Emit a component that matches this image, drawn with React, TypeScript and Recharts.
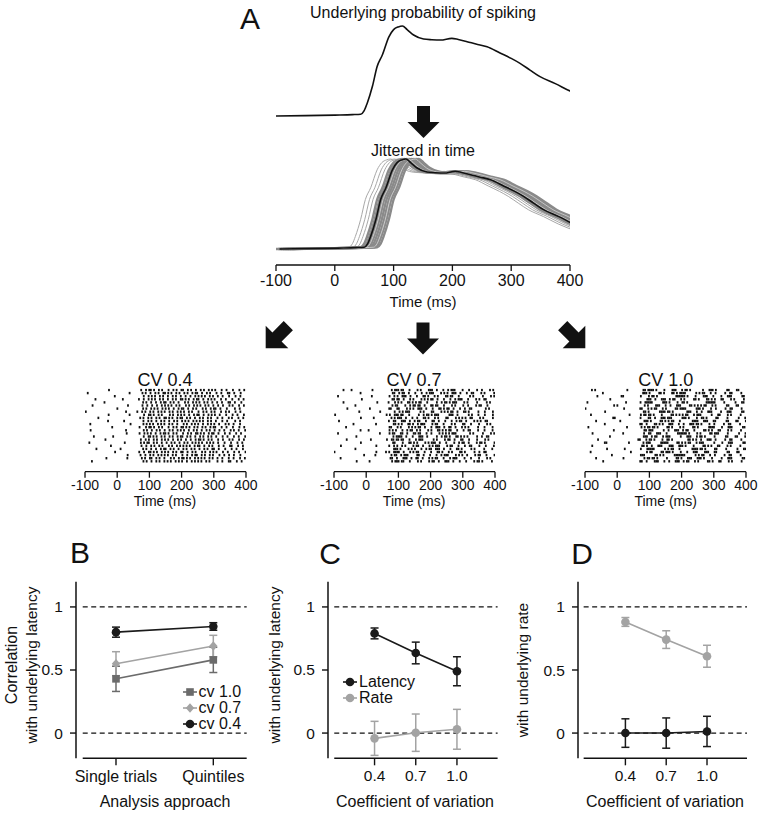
import React from "react";
import {
  ErrorBar,
  Line,
  LineChart,
  ReferenceLine,
  Scatter,
  ScatterChart,
  XAxis,
  YAxis,
} from "recharts";

const FONT = '"Liberation Sans", Arial, Helvetica, sans-serif';
const INK = "#111";
const GREY_DARK = "#6b6b6b";
const GREY_LIGHT = "#a3a3a3";

// A: underlying probability of spiking (time in ms, relative rate)
const timeMs = [-100, -50, 0, 30, 44, 50, 55, 64, 72, 81, 92, 100, 108, 115, 123, 134, 151, 165, 180, 199, 210, 225, 240, 259, 281, 300, 315, 332, 349, 375, 400, 430];
const spikeProb = [0, 0.004, 0.01, 0.015, 0.02, 0.06, 0.14, 0.33, 0.55, 0.68, 0.88, 0.96, 0.99, 1.0, 0.96, 0.9, 0.856, 0.848, 0.844, 0.863, 0.85, 0.826, 0.8, 0.77, 0.7, 0.64, 0.585, 0.51, 0.437, 0.36, 0.278, 0.2];
const timeTicks = [-100, 0, 100, 200, 300, 400];

// jitter offsets of the copies (ms)
const jitterGrey = [0, 4, 8, 12, 16, 20, 24, 28];
const jitterPale = [10, 22];
const jitterThin = [-20, -13, -7];
const jitterMean = 6;

// rasters: one string per trial, one char per 5 ms bin from -100 ms, "|" = spike
const raster04 = [
  ".......... ....|..... .......... ....|..|.| |.|..|.|.. .|..|.|..| |..|.|..|. .|.|..|.|. |...|..|.. .|...|..|.",
  "..|....... .......... ........|. ......|.|. .|..|.|..| |.|.|..|.| ..|.|..|.| |..|..|.|. ..|..|...| |..|...|..",
  ".......... .......|.. .......... .....|..|. |.|..|.|.. |..|.|..|. .|..|..|.| .|.|..|.|. .|..|...|. ..|..|...|",
  "......|... .......... ...|...... ...|..|..| .|.|..|.|. .|..|.|..| |.|.|..|.| |..|..|.|. |...|..|.. .|...|..|.",
  ".......... ..|....... .......... ......|.|. .|..|..|.| |..|.|..|. ..|.|..|.| .|..|.|..| ..|..|...| |..|...|..",
  "...|...... .......... .....|.... ....|..|.. |..|..|.|. |.|..|.|.. .|.|..|.|. |..|.|..|. .|..|...|. |...|..|..",
  ".......... .........| .......... .....|.|.. |.|.|..|.| .|..|..|.| |..|..|.|. ..|.|..|.| |..|...|.. ..|..|...|",
  ".|........ .......... ......|... ...|..|.|. .|.|..|.|. |..|.|..|. |.|..|.|.. .|..|.|..| .|...|..|. |...|..|..",
  ".......... ....|..... .......|.. ......|..| |.|..|.|.. ..|.|..|.| .|..|..|.| |..|..|.|. |..|...|.. .|..|...|.",
  "........|. .......... .......... ....|.|..| .|..|.|..| |.|.|..|.| |..|.|..|. .|.|..|.|. ..|..|...| .|...|..|.",
  ".......... ...|...... ...|...... .....|..|. |..|..|.|. .|..|.|..| .|.|..|.|. |.|..|.|.. |...|..|.. ..|..|...|",
  "....|..... .......... .........| .......|.| .|.|..|.|. |..|.|..|. ..|.|..|.| .|..|..|.| .|..|...|. |..|...|..",
  ".......... ......|... .......... ...|...|.| |.|..|.|.. .|..|.|..| |.|.|..|.| ..|.|..|.| |...|..|.. .|...|..|.",
  "..|....... .......... ....|..... .....|.|.. |..|.|..|. .|.|..|.|. |..|..|.|. .|..|.|..| ..|..|...| .|..|...|.",
  ".......... .......... ......|... ....|..|.| .|..|..|.| |.|..|.|.. .|..|.|..| |.|.|..|.| |..|...|.. |...|..|..",
  ".....|.... .......|.. .......... ......|..| |.|.|..|.| ..|.|..|.| |..|.|..|. .|.|..|.|. .|...|..|. ..|..|...|",
  ".......... .|........ .......... ...|..|.|. .|.|..|.|. |..|..|.|. .|..|..|.| |.|..|.|.. .|..|...|. |...|..|..",
  "...|...... .......... .....|.... .....|.|.| |..|.|..|. .|..|.|..| ..|.|..|.| .|.|..|.|. |..|...|.. .|...|..|.",
  ".......... .....|.... .......... ....|..|.. |.|..|.|.. .|.|..|.|. |.|.|..|.| |..|..|.|. ..|..|...| |...|..|..",
  ".......|.. .......... ..|....... ......|.|. .|..|..|.| |..|.|..|. .|.|..|.|. .|..|.|..| |..|...|.. .|..|...|.",
  ".......... ........|. .......... ...|..|..| |.|.|..|.| .|..|.|..| |..|..|.|. ..|.|..|.| .|...|..|. ..|..|...|",
  "|......... .......... .......|.. .....|..|. .|.|..|.|. |.|..|.|.. .|..|..|.| |..|.|..|. |...|..|.. |..|...|..",
  ".......... ..|....... .....|.... ....|.|..| |..|.|..|. ..|.|..|.| |.|.|..|.| .|.|..|.|. .|..|...|. .|...|..|.",
  "....|..... .......... .......... ......|.|. .|..|.|..| .|.|..|.|. |..|..|.|. |.|..|.|.. ..|..|...| |...|..|..",
];

const raster07 = [
  "......|... .|........ ....|..... ......|.|| |.||...|.. ..|.|....| ||..|...|. .|.|||.... |...|....| ..|....|.|",
  ".......... .....|.... .......... .....||..| .||..|...| ...|..|.|| |....|.|.| ..|||..|.. .|..||.... |.|.....|.",
  "..|....... .......... ...|...... ....|..|.| ..|||..|.. .|...||.|. ..|.|....| |.||...|.. ....|.|... ..|....|.|",
  ".......... ........|. .......... .......||. ||..|...|. |....|.|.| .||..|...| ...|..|.|| |...|....| .|..||....",
  ".....|.... .......... ......|... ...|...|.| .|...||.|. |.||...|.. ...|..|.|| .|.|||.... |.|.....|. ....|.|...",
  ".......... ..|....... .......... .....|.||. ...|..|.|| .||..|...| |.||...|.. ..|.|....| ..|....|.| |...|....|",
  "........|. .......... ..|....... ....||...| |....|.|.| ..|||..|.. .|...||.|. ||..|...|. .|..||.... ....|.|...",
  ".......... ....|..... .......|.. ......|..| .|.|||.... ..|.|....| |....|.|.| .||..|...| |.|.....|. ..|....|.|",
  ".|........ .......... .......... ...|.|..|| |.||...|.. ...|..|.|| .|.|||.... ..|||..|.. ....|.|... |...|....|",
  ".......... ......|... ....|..... .....|.|.| ||..|...|. .|...||.|. ..|.|....| |....|.|.| .|..||.... |.|.....|.",
  "...|...... .......... .......... ....|..||. ..|||..|.. |.||...|.. .||..|...| ...|..|.|| ..|....|.| .|..||....",
  ".......... .|........ .....|.... ......||.| .|...||.|. .|.|||.... |.||...|.. ..|.|....| |...|....| ....|.|...",
  "......|... .......... .......... ...||...|. |....|.|.| .||..|...| ..|||..|.. ||..|...|. |.|.....|. ..|....|.|",
  ".......... .......|.. ..|....... .....|.|.| ...|..|.|| ..|.|....| .|...||.|. |.||...|.. .|..||.... |...|....|",
  "..|....... .......... ........|. ....|.||.. .||..|...| |.||...|.. |....|.|.| .|.|||.... ....|.|... ..|....|.|",
  ".......... ...|...... .......... ......|.|| ||..|...|. ..|||..|.. ...|..|.|| .|...||.|. |.|.....|. .|..||....",
  "........|. .......... ...|...... ...|..||.| |.||...|.. .|.|||.... ..|.|....| .||..|...| |...|....| ....|.|...",
  ".......... .....|.... .......... .....||... .|...||.|. |....|.|.| ||..|...|. ...|..|.|| ..|....|.| |.|.....|.",
  "....|..... .......... ......|... ....|..|.| ..|.|....| .||..|...| .|.|||.... |.||...|.. .|..||.... |...|....|",
  ".......... ..|....... .......... ......|||. |....|.|.| ...|..|.|| ..|||..|.. .|...||.|. ....|.|... ..|....|.|",
  ".|........ .......... .......|.. ...|.|..|| ||..|...|. |.||...|.. .|...||.|. ..|.|....| |.|.....|. .|..||....",
  ".......... ........|. .....|.... .....|.||. .|.|||.... .||..|...| ...|..|.|| |....|.|.| ..|....|.| |...|....|",
  "...|...... .......... .......... ....||..|. ..|||..|.. ||..|...|. |.||...|.. .|.|||.... |...|....| ....|.|...",
  ".......... ....|..... ..|....... ......|.|| |.||...|.. ..|.|....| .||..|...| ||..|...|. ..|....|.| |.|.....|.",
];

const raster10 = [
  "...|.|.... .......... .....|.... .....||.|| ||.|....|. ...|||...| .||.|..... ..|...|||. |......||. ...||....|",
  ".......... .|........ .......... ......|||. |.....||.| ....||.|.| |||......| .|.||...|. .|.....|.. ||.....|..",
  ".......|.. .......... ..||...... ....|....| .||.|..... ......|||| ||.|....|. ...|||...| ....|...|| |......||.",
  ".......... ....|..... .......... .......||| ..|...|||. .|.||...|. |.....||.| ....||.|.| ...||....| .|.....|..",
  "..|....... .......... ......|... .....|..|| |||......| ||.|....|. .||.|..... ......|||| ||.....|.. ....|...||",
  ".......... .......|.| .......... ......|.|. ...|||...| ..|...|||. ....||.|.| .|.||...|. |......||. ...||....|",
  "|......... .......... ....|..... ....||...| .|.||...|. |.....||.| |||......| ||.|....|. .|.....|.. ||.....|..",
  ".......... ..|....... .......... ......||.| ......|||| .||.|..... ...|||...| ..|...|||. ....|...|| |......||.",
  "....|..... .......... ........|. .....|.||. ||.|....|. ....||.|.| .|.||...|. |||......| ...||....| .|.....|..",
  ".......... ......||.. .......... ...|....|| ..|...|||. |||......| ||.|....|. .||.|..... ||.....|.. ....|...||",
  "......|... .......... .|........ ......|||. |.....||.| .|.||...|. ......|||| ...|||...| |......||. ...||....|",
  ".......... ...|...... .......... .....||..| ....||.|.| ...|||...| ..|...|||. ||.|....|. .|.....|.. ||.....|..",
  ".|........ .......... .....|.... ....|.|.|| .||.|..... ||.|....|. |.....||.| ......|||| ....|...|| |......||.",
  ".......... ........|. .......... .......||. |||......| ..|...|||. .|.||...|. ....||.|.| ...||....| .|.....|..",
  "...|...... .......... ..|....... .....|..|| ...|||...| ......|||| ||.|....|. |.....||.| ||.....|.. ....|...||",
  ".......... .....|.... .......... ......|||. .|.||...|. |||......| ...|||...| .||.|..... |......||. ...||....|",
  "........|. .......... .......... ...||...|. ||.|....|. .||.|..... ....||.|.| ..|...|||. .|.....|.. ||.....|..",
  ".......... .||....... ......|... .....|.||| ......|||| |.....||.| .|.||...|. |||......| ....|...|| |......||.",
  ".....|.... .......... .......... ......||.| ..|...|||. ...|||...| ||.|....|. ....||.|.| ...||....| .|.....|..",
  ".......... ...|...... ....|..... ....|...|| |||......| .|.||...|. ......|||| .||.|..... ||.....|.. ....|...||",
  "..|....... .......... .......|.. .......|.| |.....||.| ||.|....|. ..|...|||. ...|||...| |......||. ...||....|",
  ".......... .......|.. .......... .....|||.. ....||.|.| ......|||| |||......| .|.||...|. .|.....|.. ||.....|..",
  "......|... .......... ...|...... ......|.|| .||.|..... |.....||.| ...|||...| ||.|....|. ....|...|| |......||.",
  ".......... .|........ .......... ....||..|. ...|||...| ..|...|||. .|.||...|. |.....||.| ...||....| .|.....|..",
];

// per-trial time jitter of each raster row (ms)
const shift04 = [2, -4, 5, 0, -2, 6, 3, -5, 1, -1, 4, -6, 2, 5, -3, 0, 6, -4, 3, -2, 1, -5, 4, -1];
const shift07 = [-3, 5, 0, -6, 2, 4, -1, 6, -4, 1, -2, 3, 5, -5, 0, 2, -3, 6, -1, 4, -6, 1, 3, -2];
const shift10 = [4, -2, 1, 6, -5, 3, -1, 0, -4, 5, 2, -6, 3, -3, 6, 0, -2, 4, -5, 1, 5, -4, 2, -1];

// B: correlation with underlying latency
const bCategories = ["Single trials", "Quintiles"];
const bCv10 = [0.43, 0.58];
const bCv10Err = [0.1, 0.1];
const bCv07 = [0.55, 0.69];
const bCv07Err = [0.095, 0.085];
const bCv04 = [0.8, 0.845];
const bCv04Err = [0.04, 0.03];

// C and D: by coefficient of variation
const cvLevels = [0.4, 0.7, 1.0];
const cLatency = [0.79, 0.635, 0.49];
const cLatencyErr = [0.043, 0.086, 0.115];
const cRate = [-0.042, 0.003, 0.03];
const cRateErr = [0.135, 0.148, 0.158];
const dRate = [0.881, 0.741, 0.609];
const dRateErr = [0.035, 0.07, 0.087];
const dLatency = [0, 0, 0.013];
const dLatencyErr = [0.113, 0.12, 0.12];

const probData = timeMs.map((t, i) => ({ t, v: spikeProb[i] }));
const shifted = (off: number) => probData.map((p) => ({ t: p.t + off, v: p.v }));

const parseRaster = (rows: string[], shifts: number[]) => {
  const pts: { t: number; row: number }[] = [];
  rows.forEach((r, ri) => {
    const s = r.replace(/ /g, "");
    for (let i = 0; i < s.length; i++) {
      if (s[i] !== "|") continue;
      const t = -100 + 5 * i + 2.5 + (shifts[ri] ?? 0);
      if (t >= -100 && t <= 400) pts.push({ t, row: rows.length - 1 - ri });
    }
  });
  return pts;
};

const bData = bCategories.map((_, i) => ({
  x: i,
  cv10: bCv10[i],
  cv10Err: bCv10Err[i],
  cv07: bCv07[i],
  cv07Err: bCv07Err[i],
  cv04: bCv04[i],
  cv04Err: bCv04Err[i],
}));
const cData = cvLevels.map((x, i) => ({
  x,
  lat: cLatency[i],
  latErr: cLatencyErr[i],
  rate: cRate[i],
  rateErr: cRateErr[i],
}));
const dData = cvLevels.map((x, i) => ({
  x,
  lat: dLatency[i],
  latErr: dLatencyErr[i],
  rate: dRate[i],
  rateErr: dRateErr[i],
}));

function Txt({
  x,
  y,
  size = 15,
  rotate = 0,
  children,
}: {
  x: number;
  y: number;
  size?: number;
  rotate?: number;
  children: React.ReactNode;
}) {
  return (
    <div
      style={{
        position: "absolute",
        left: x,
        top: y,
        transform: `translate(-50%, -50%) rotate(${rotate}deg)`,
        fontSize: size,
        lineHeight: 1,
        whiteSpace: "nowrap",
        color: INK,
      }}
    >
      {children}
    </div>
  );
}

type Shape = "circle" | "square" | "diamond";

const markerNode = (shape: Shape, color: string, cx: number, cy: number, key?: any) => {
  if (shape === "square")
    return <rect key={key} x={cx - 3.8} y={cy - 3.8} width={7.6} height={7.6} fill={color} />;
  if (shape === "diamond")
    return (
      <polygon
        key={key}
        points={`${cx},${cy - 4.8} ${cx + 4.2},${cy} ${cx},${cy + 4.8} ${cx - 4.2},${cy}`}
        fill={color}
      />
    );
  return <circle key={key} cx={cx} cy={cy} r={4.3} fill={color} />;
};

const dotFor = (shape: Shape, color: string) => (p: any) => {
  if (p.cx == null || p.cy == null) return <g key={p.index} />;
  return markerNode(shape, color, p.cx, p.cy, `d-${p.index}`);
};

function LegendRow({
  x,
  y,
  shape,
  color,
  label,
  size = 16,
}: {
  x: number;
  y: number;
  shape: Shape;
  color: string;
  label: string;
  size?: number;
}) {
  return (
    <div style={{ position: "absolute", left: x - 7, top: y - 6 }}>
      <svg width={14} height={12} style={{ position: "absolute", left: 0, top: 0, overflow: "visible" }}>
        <line x1={0} y1={6} x2={14} y2={6} stroke={color} strokeWidth={1.6} />
        {markerNode(shape, color, 7, 6)}
      </svg>
      <div
        style={{
          position: "absolute",
          left: 16,
          top: 6,
          transform: "translateY(-50%)",
          fontSize: size,
          lineHeight: 0.75,
          whiteSpace: "nowrap",
          color: INK,
        }}
      >
        {label}
      </div>
    </div>
  );
}

function Raster({
  rows,
  shifts,
  left,
  title,
}: {
  rows: string[];
  shifts: number[];
  left: number;
  title: string;
}) {
  const pts = parseRaster(rows, shifts);
  const plotW = 161;
  return (
    <>
      <div style={{ position: "absolute", left: left - 25, top: 370 }}>
        <ScatterChart
          width={plotW + 45}
          height={141.7}
          margin={{ top: 18.5, right: 20, bottom: 0, left: 25 }}
        >
          <XAxis
            type="number"
            dataKey="t"
            domain={[-100, 400]}
            ticks={timeTicks}
            interval={0}
            allowDataOverflow
            height={40}
            tickSize={6}
            tickMargin={2}
            stroke={INK}
            strokeWidth={1.3}
            tick={{ fontSize: 14, fill: INK }}
          />
          <YAxis type="number" dataKey="row" hide domain={[-3.35, 23.48]} allowDataOverflow />
          <Scatter
            data={pts}
            isAnimationActive={false}
            shape={(p: any) => (
              <rect x={p.cx - 0.9} y={p.cy - 1.2} width={1.8} height={2.4} fill={INK} />
            )}
          />
        </ScatterChart>
      </div>
      <Txt x={left + plotW / 2} y={380} size={18}>
        {title}
      </Txt>
      <Txt x={left + plotW / 2} y={500.5} size={14}>
        Time (ms)
      </Txt>
    </>
  );
}

function StatPanel({
  left,
  right,
  data,
  xDomain,
  xTicks,
  xFormat,
  xStart,
  tickSize,
  children,
}: {
  left: number;
  right: number;
  data: any[];
  xDomain: [number, number];
  xTicks: number[];
  xFormat: (v: number) => string;
  xStart: number;
  tickSize: number;
  children: React.ReactNode;
}) {
  const yW = 44;
  const pad = 6;
  const rPad = 16;
  return (
    <div style={{ position: "absolute", left: left - yW - pad, top: 570 }}>
      <LineChart
        width={right - left + yW + pad + rPad}
        height={228.3}
        data={data}
        margin={{ top: 11.7, right: rPad, bottom: 0, left: pad }}
      >
        <XAxis
          type="number"
          dataKey="x"
          domain={xDomain}
          ticks={xTicks}
          interval={0}
          allowDataOverflow
          tickFormatter={xFormat}
          axisLine={false}
          height={40}
          tickSize={7}
          tickMargin={5}
          stroke={INK}
          tickLine={{ stroke: INK, strokeWidth: 1.4 }}
          tick={{ fontSize: tickSize, fill: INK }}
        />
        <YAxis
          type="number"
          domain={[-0.2, 1.2]}
          ticks={[0, 0.5, 1]}
          interval={0}
          allowDataOverflow
          tickFormatter={(v: number) => String(v)}
          width={yW}
          tickSize={6}
          tickMargin={7}
          stroke={INK}
          axisLine={{ stroke: INK, strokeWidth: 1.5 }}
          tickLine={{ stroke: INK, strokeWidth: 1.4 }}
          tick={{ fontSize: 15.5, fill: INK }}
        />
        <ReferenceLine
          segment={[{ x: xStart, y: -0.2 }, { x: xDomain[1], y: -0.2 }]}
          stroke={INK}
          strokeWidth={1.5}
          ifOverflow="visible"
        />
        <ReferenceLine
          segment={[{ x: xStart, y: 1 }, { x: xDomain[1], y: 1 }]}
          stroke={INK}
          strokeWidth={1.3}
          strokeDasharray="5 3.5"
          ifOverflow="visible"
        />
        <ReferenceLine
          segment={[{ x: xStart, y: 0 }, { x: xDomain[1], y: 0 }]}
          stroke={INK}
          strokeWidth={1.3}
          strokeDasharray="5 3.5"
          ifOverflow="visible"
        />
        {children}
      </LineChart>
    </div>
  );
}

const series = (key: string, errKey: string, color: string, shape: Shape) => (
  <Line
    key={key}
    dataKey={key}
    stroke={color}
    strokeWidth={1.6}
    type="linear"
    dot={dotFor(shape, color)}
    activeDot={false}
    isAnimationActive={false}
  >
    <ErrorBar dataKey={errKey} width={4} stroke={color} strokeWidth={1.5} direction="y" />
  </Line>
);

const arrowPts = "-6.5,-16 6.5,-16 6.5,0 16,0 0,16 -16,0 -6.5,0";

export default function App() {
  return (
    <div
      style={{
        position: "absolute",
        left: 0,
        top: 0,
        width: 764,
        height: 814,
        background: "#fff",
        fontFamily: FONT,
        color: INK,
        overflow: "hidden",
      }}
    >
      {/* A: underlying curve */}
      <div style={{ position: "absolute", left: 240, top: 0 }}>
        <LineChart width={350} height={120} margin={{ top: 20, right: 20, bottom: 0, left: 36 }}>
          <XAxis type="number" dataKey="t" domain={[-100, 400]} allowDataOverflow hide />
          <YAxis type="number" domain={[-0.0444, 1.0667]} allowDataOverflow hide />
          <Line
            data={probData}
            dataKey="v"
            type="monotone"
            stroke={INK}
            strokeWidth={1.6}
            dot={false}
            isAnimationActive={false}
          />
        </LineChart>
      </div>

      {/* A: jittered copies */}
      <div style={{ position: "absolute", left: 240, top: 140 }}>
        <LineChart width={350} height={165} margin={{ top: 10, right: 20, bottom: 0, left: 36 }}>
          <XAxis
            type="number"
            dataKey="t"
            domain={[-100, 400]}
            ticks={timeTicks}
            interval={0}
            allowDataOverflow
            height={40}
            tickSize={6}
            tickMargin={4}
            stroke={INK}
            strokeWidth={1.3}
            tick={{ fontSize: 16, fill: INK }}
          />
          <YAxis type="number" domain={[-0.1778, 1.1]} allowDataOverflow hide />
          {jitterThin.map((off) => (
            <Line
              key={`thin${off}`}
              data={shifted(off)}
              dataKey="v"
              type="monotone"
              stroke="#a8a8a8"
              strokeWidth={1}
              dot={false}
              isAnimationActive={false}
            />
          ))}
          {jitterGrey.map((off) => (
            <Line
              key={`grey${off}`}
              data={shifted(off)}
              dataKey="v"
              type="monotone"
              stroke="#8a8a8a"
              strokeWidth={2.4}
              dot={false}
              isAnimationActive={false}
            />
          ))}
          {jitterPale.map((off) => (
            <Line
              key={`pale${off}`}
              data={shifted(off)}
              dataKey="v"
              type="monotone"
              stroke="#d4d4d4"
              strokeWidth={0.8}
              dot={false}
              isAnimationActive={false}
            />
          ))}
          <Line
            data={shifted(jitterMean)}
            dataKey="v"
            type="monotone"
            stroke={INK}
            strokeWidth={1.6}
            dot={false}
            isAnimationActive={false}
          />
        </LineChart>
      </div>

      <Txt x={250} y={19} size={30}>A</Txt>
      <Txt x={423} y={13} size={16}>Underlying probability of spiking</Txt>
      <Txt x={423} y={151} size={16}>Jittered in time</Txt>
      <Txt x={423} y={301} size={15}>Time (ms)</Txt>

      <svg width={764} height={814} style={{ position: "absolute", left: 0, top: 0, pointerEvents: "none" }}>
        <polygon points={arrowPts} transform="translate(423.5 122)" fill={INK} />
        <polygon points={arrowPts} transform="translate(423 338.5)" fill={INK} />
        <polygon points={arrowPts} transform="translate(277 337) rotate(45)" fill={INK} />
        <polygon points={arrowPts} transform="translate(574 337) rotate(-45)" fill={INK} />
      </svg>

      <Raster rows={raster04} shifts={shift04} left={84.5} title="CV 0.4" />
      <Raster rows={raster07} shifts={shift07} left={333.6} title="CV 0.7" />
      <Raster rows={raster10} shifts={shift10} left={585.2} title="CV 1.0" />

      {/* B */}
      <StatPanel
        left={76}
        right={246.7}
        data={bData}
        xDomain={[-0.411, 1.343]}
        xTicks={[0, 1]}
        xFormat={(v) => bCategories[v] ?? ""}
        xStart={-0.342}
        tickSize={16}
      >
        {series("cv10", "cv10Err", GREY_DARK, "square")}
        {series("cv07", "cv07Err", GREY_LIGHT, "diamond")}
        {series("cv04", "cv04Err", "#1a1a1a", "circle")}
      </StatPanel>
      <Txt x={80} y={553} size={30}>B</Txt>
      <Txt x={12} y={665} size={16} rotate={-90}>Correlation</Txt>
      <Txt x={32} y={665} size={15.5} rotate={-90}>with underlying latency</Txt>
      <Txt x={165} y={801.7} size={16}>Analysis approach</Txt>
      <LegendRow x={189.5} y={692} shape="square" color={GREY_DARK} label="cv 1.0" size={16} />
      <LegendRow x={189.5} y={708} shape="diamond" color={GREY_LIGHT} label="cv 0.7" size={16} />
      <LegendRow x={189.5} y={724} shape="circle" color="#1a1a1a" label="cv 0.4" size={16} />

      {/* C */}
      <StatPanel
        left={327.7}
        right={497.3}
        data={cData}
        xDomain={[0.061, 1.296]}
        xTicks={cvLevels}
        xFormat={(v) => v.toFixed(1)}
        xStart={0.1065}
        tickSize={15.5}
      >
        {series("rate", "rateErr", GREY_LIGHT, "circle")}
        {series("lat", "latErr", "#1a1a1a", "circle")}
      </StatPanel>
      <Txt x={330} y={554} size={30}>C</Txt>
      <Txt x={275} y={665} size={15.5} rotate={-90}>with underlying latency</Txt>
      <Txt x={415} y={801.7} size={16}>Coefficient of variation</Txt>
      <LegendRow x={350} y={681.5} shape="circle" color="#1a1a1a" label="Latency" />
      <LegendRow x={350} y={697.5} shape="circle" color={GREY_LIGHT} label="Rate" />

      {/* D */}
      <StatPanel
        left={578.3}
        right={747.3}
        data={dData}
        xDomain={[0.0515, 1.294]}
        xTicks={cvLevels}
        xFormat={(v) => v.toFixed(1)}
        xStart={0.093}
        tickSize={15.5}
      >
        {series("rate", "rateErr", GREY_LIGHT, "circle")}
        {series("lat", "latErr", "#1a1a1a", "circle")}
      </StatPanel>
      <Txt x={582} y={554} size={30}>D</Txt>
      <Txt x={523.3} y={670} size={15.5} rotate={-90}>with underlying rate</Txt>
      <Txt x={665} y={801.7} size={16}>Coefficient of variation</Txt>
    </div>
  );
}
